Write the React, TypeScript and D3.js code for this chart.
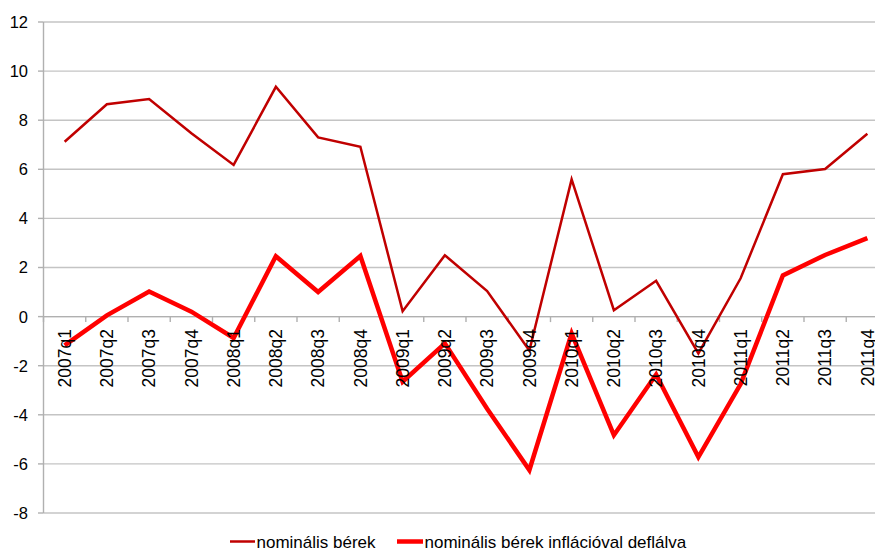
import React from "react";
import * as d3 from "d3";

// Quarterly categories
const quarters = [
  "2007q1", "2007q2", "2007q3", "2007q4",
  "2008q1", "2008q2", "2008q3", "2008q4",
  "2009q1", "2009q2", "2009q3", "2009q4",
  "2010q1", "2010q2", "2010q3", "2010q4",
  "2011q1", "2011q2", "2011q3", "2011q4",
];

// Nominal wages, year-on-year change (%)
const nominalWages = [
  7.12, 8.65, 8.86, 7.47, 6.18, 9.36, 7.3, 6.92, 0.22, 2.5,
  1.04, -1.38, 5.59, 0.26, 1.46, -1.5, 1.56, 5.8, 6.01, 7.45,
];

// Nominal wages deflated by inflation (%)
const realWages = [
  -1.17, 0.05, 1.02, 0.2, -0.87, 2.46, 1.0, 2.47, -2.65, -1.09,
  -3.75, -6.25, -0.68, -4.83, -2.36, -5.72, -2.75, 1.68, 2.51, 3.2,
];

const yTicks = [12, 10, 8, 6, 4, 2, 0, -2, -4, -6, -8];

const seriesNames = ["nominális bérek", "nominális bérek inflációval deflálva"];

const W = 875;
const H = 551;
const FONT = "'Liberation Sans', Arial, sans-serif";

export default function App() {
  const left = 43.5;
  const bandW = 42.25;
  const right = left + bandW * quarters.length;

  const x = d3.scaleBand<string>().domain(quarters).range([left, right]);
  const y = d3.scaleLinear().domain([-8, 12]).range([513, 22]);

  const cx = (q: string) => (x(q) ?? 0) + x.bandwidth() / 2;

  const line = d3
    .line<number>()
    .x((_, i) => cx(quarters[i]))
    .y((v) => y(v));

  const grid = "#c4c4c4";
  const axis = "#b0b0b0";

  return (
    <svg
      width={W}
      height={H}
      style={{ position: "absolute", left: 0, top: 0, background: "#fff" }}
      fontFamily={FONT}
    >
      {/* horizontal gridlines */}
      {yTicks.map((t) => (
        <line
          key={`g${t}`}
          x1={left}
          x2={right}
          y1={y(t)}
          y2={y(t)}
          stroke={grid}
          strokeWidth={1.4}
        />
      ))}

      {/* y axis */}
      <line x1={left} x2={left} y1={y(12)} y2={y(-8)} stroke={axis} strokeWidth={1.4} />
      {yTicks.map((t) => (
        <g key={`yt${t}`}>
          <line x1={left - 5.5} x2={left} y1={y(t)} y2={y(t)} stroke={axis} strokeWidth={1.4} />
          <text
            x={28}
            y={y(t)}
            dy="0.36em"
            textAnchor="end"
            fontSize={16.5}
            fill="#000"
          >
            {t}
          </text>
        </g>
      ))}

      {/* x axis at zero */}
      <line x1={left} x2={right} y1={y(0)} y2={y(0)} stroke={axis} strokeWidth={1.4} />
      {quarters.map((q, i) => (
        <line
          key={`xt${q}`}
          x1={(x(q) ?? 0) + (i === 0 ? 0 : 0)}
          x2={x(q) ?? 0}
          y1={y(0)}
          y2={y(0) + 5.5}
          stroke={axis}
          strokeWidth={1.4}
        />
      ))}

      {/* series lines */}
      <path
        d={line(nominalWages) ?? ""}
        fill="none"
        stroke="#c00000"
        strokeWidth={2.5}
        strokeLinejoin="miter"
      />
      <path
        d={line(realWages) ?? ""}
        fill="none"
        stroke="#ff0000"
        strokeWidth={4.5}
        strokeLinejoin="miter"
      />

      {/* category labels, rotated */}
      {quarters.map((q) => (
        <text
          key={`xl${q}`}
          transform={`translate(${cx(q)},${y(0) + 12.5}) rotate(-90)`}
          dy="0.35em"
          textAnchor="end"
          fontSize={17.5}
          fill="#000"
        >
          {q}
        </text>
      ))}

      {/* legend */}
      <g>
        <line x1={230} x2={255} y1={541.5} y2={541.5} stroke="#c00000" strokeWidth={2.5} />
        <text x={256.5} y={541.5} dy="0.36em" fontSize={17} fill="#000">
          {seriesNames[0]}
        </text>
        <line x1={397} x2={423} y1={541.5} y2={541.5} stroke="#ff0000" strokeWidth={4.5} />
        <text x={424.5} y={541.5} dy="0.36em" fontSize={17} fill="#000">
          {seriesNames[1]}
        </text>
      </g>
    </svg>
  );
}
